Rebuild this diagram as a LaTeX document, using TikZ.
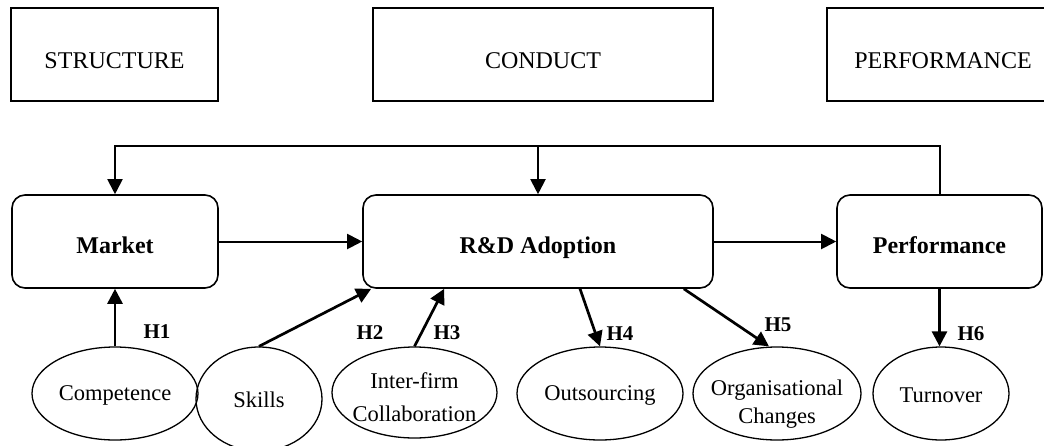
\documentclass[tikz,border=0pt]{standalone}
\usepackage{fontspec}
\setmainfont{Liberation Serif}
\usetikzlibrary{shapes.geometric,arrows.meta,calc}
\begin{document}
\begin{tikzpicture}[x=1pt,y=-1pt,
  txt/.style={font=\fontsize{24}{28}\selectfont,inner sep=0pt,anchor=base},
  etxt/.style={font=\fontsize{22.5}{27}\selectfont,inner sep=0pt,anchor=base},
  btxt/.style={font=\fontsize{24}{28}\selectfont\bfseries,inner sep=0pt,anchor=base},
  headbox/.style={draw,line width=1.6pt,rectangle,inner sep=0pt,minimum height=93pt},
  mainbox/.style={draw,line width=1.6pt,rectangle,rounded corners=13pt,inner sep=0pt,minimum height=93pt},
  var/.style={draw,line width=1.3pt,ellipse,inner sep=0pt},
  arr/.style={line width=2pt,-{Triangle[length=15pt,width=15pt]}},
  harr/.style={line width=2.7pt,-{Triangle[length=15pt,width=15pt]}},
  hlab/.style={font=\fontsize{21}{25}\selectfont\bfseries,inner sep=0pt,anchor=base}
]
\clip (0,0) rectangle (1044,445);
\fill[white] (0,0) rectangle (1044,445);

% header boxes
\node[headbox,minimum width=207pt] (struct) at (114.5,54.5) {};
\node[headbox,minimum width=340pt] (conduct) at (543,54.5) {};
\node[headbox,minimum width=232pt] (perfhead) at (943,54.5) {};
\node[txt] (structT) at (114.5,68) {STRUCTURE};
\node[txt] (conductT) at (543,68) {CONDUCT};
\node[txt] (perfheadT) at (943,68) {PERFORMANCE};

% main boxes
\node[mainbox,minimum width=206pt] (market) at (115,241.5) {};
\node[mainbox,minimum width=350pt] (rd) at (538,241.5) {};
\node[mainbox,minimum width=205pt] (perf) at (939.5,241.5) {};
\node[btxt] (marketT) at (115,253) {Market};
\node[btxt] (rdT) at (538,253) {R\&D Adoption};
\node[btxt] (perfT) at (939.5,253) {Performance};

% ellipses
\node[var,minimum width=166pt,minimum height=93pt] (comp) at (115,393.5) {};
\node[var,minimum width=126pt,minimum height=104pt] (skills) at (259,399) {};
\node[var,minimum width=165pt,minimum height=91pt] (inter) at (414.5,392.5) {};
\node[var,minimum width=166pt,minimum height=93pt] (outs) at (600,393.5) {};
\node[var,minimum width=168pt,minimum height=93pt] (org) at (777,393.5) {};
\node[var,minimum width=136pt,minimum height=93pt] (turn) at (941,393.5) {};
\node[etxt] (compT) at (115,400) {Competence};
\node[etxt] (skillsT) at (259,407) {Skills};
\node[etxt] (interA) at (414.5,388) {Inter-firm};
\node[etxt] (interB) at (414.5,421) {Collaboration};
\node[etxt] (outsT) at (600,400) {Outsourcing};
\node[etxt] (orgA) at (777,395) {Organisational};
\node[etxt] (orgB) at (777,423) {Changes};
\node[etxt] (turnT) at (941,402) {Turnover};

% feedback loop
\coordinate (fb) at (538,146);
\draw[arr] (perf.north) |- (fb) -| (market.north);
\draw[arr] (fb) -- (rd.north);

% main flow
\draw[arr] (market.east) -- (rd.west);
\draw[arr] (rd.east) -- (perf.west);

% hypotheses
\draw[harr] (comp.north) -- (comp.north |- market.south);
\draw[harr] (skills.north) -- ($(rd.south west)+(9,0)$);
\draw[harr] (inter.north) -- ($(rd.south west)+(82,0)$);
\draw[harr] ($(rd.south)+(42,0)$) -- (outs.north);
\draw[harr] ($(rd.south east)+(-30,0)$) -- ($(org.north)+(-8,0)$);
\draw[harr] (perf.south) -- (perf.south |- turn.north);

\node[hlab] (h1) at (157,338) {H1};
\node[hlab] (h2) at (370,339) {H2};
\node[hlab] (h3) at (447,339) {H3};
\node[hlab] (h4) at (620,340) {H4};
\node[hlab] (h5) at (778,331) {H5};
\node[hlab] (h6) at (971,340) {H6};
\end{tikzpicture}
\end{document}
